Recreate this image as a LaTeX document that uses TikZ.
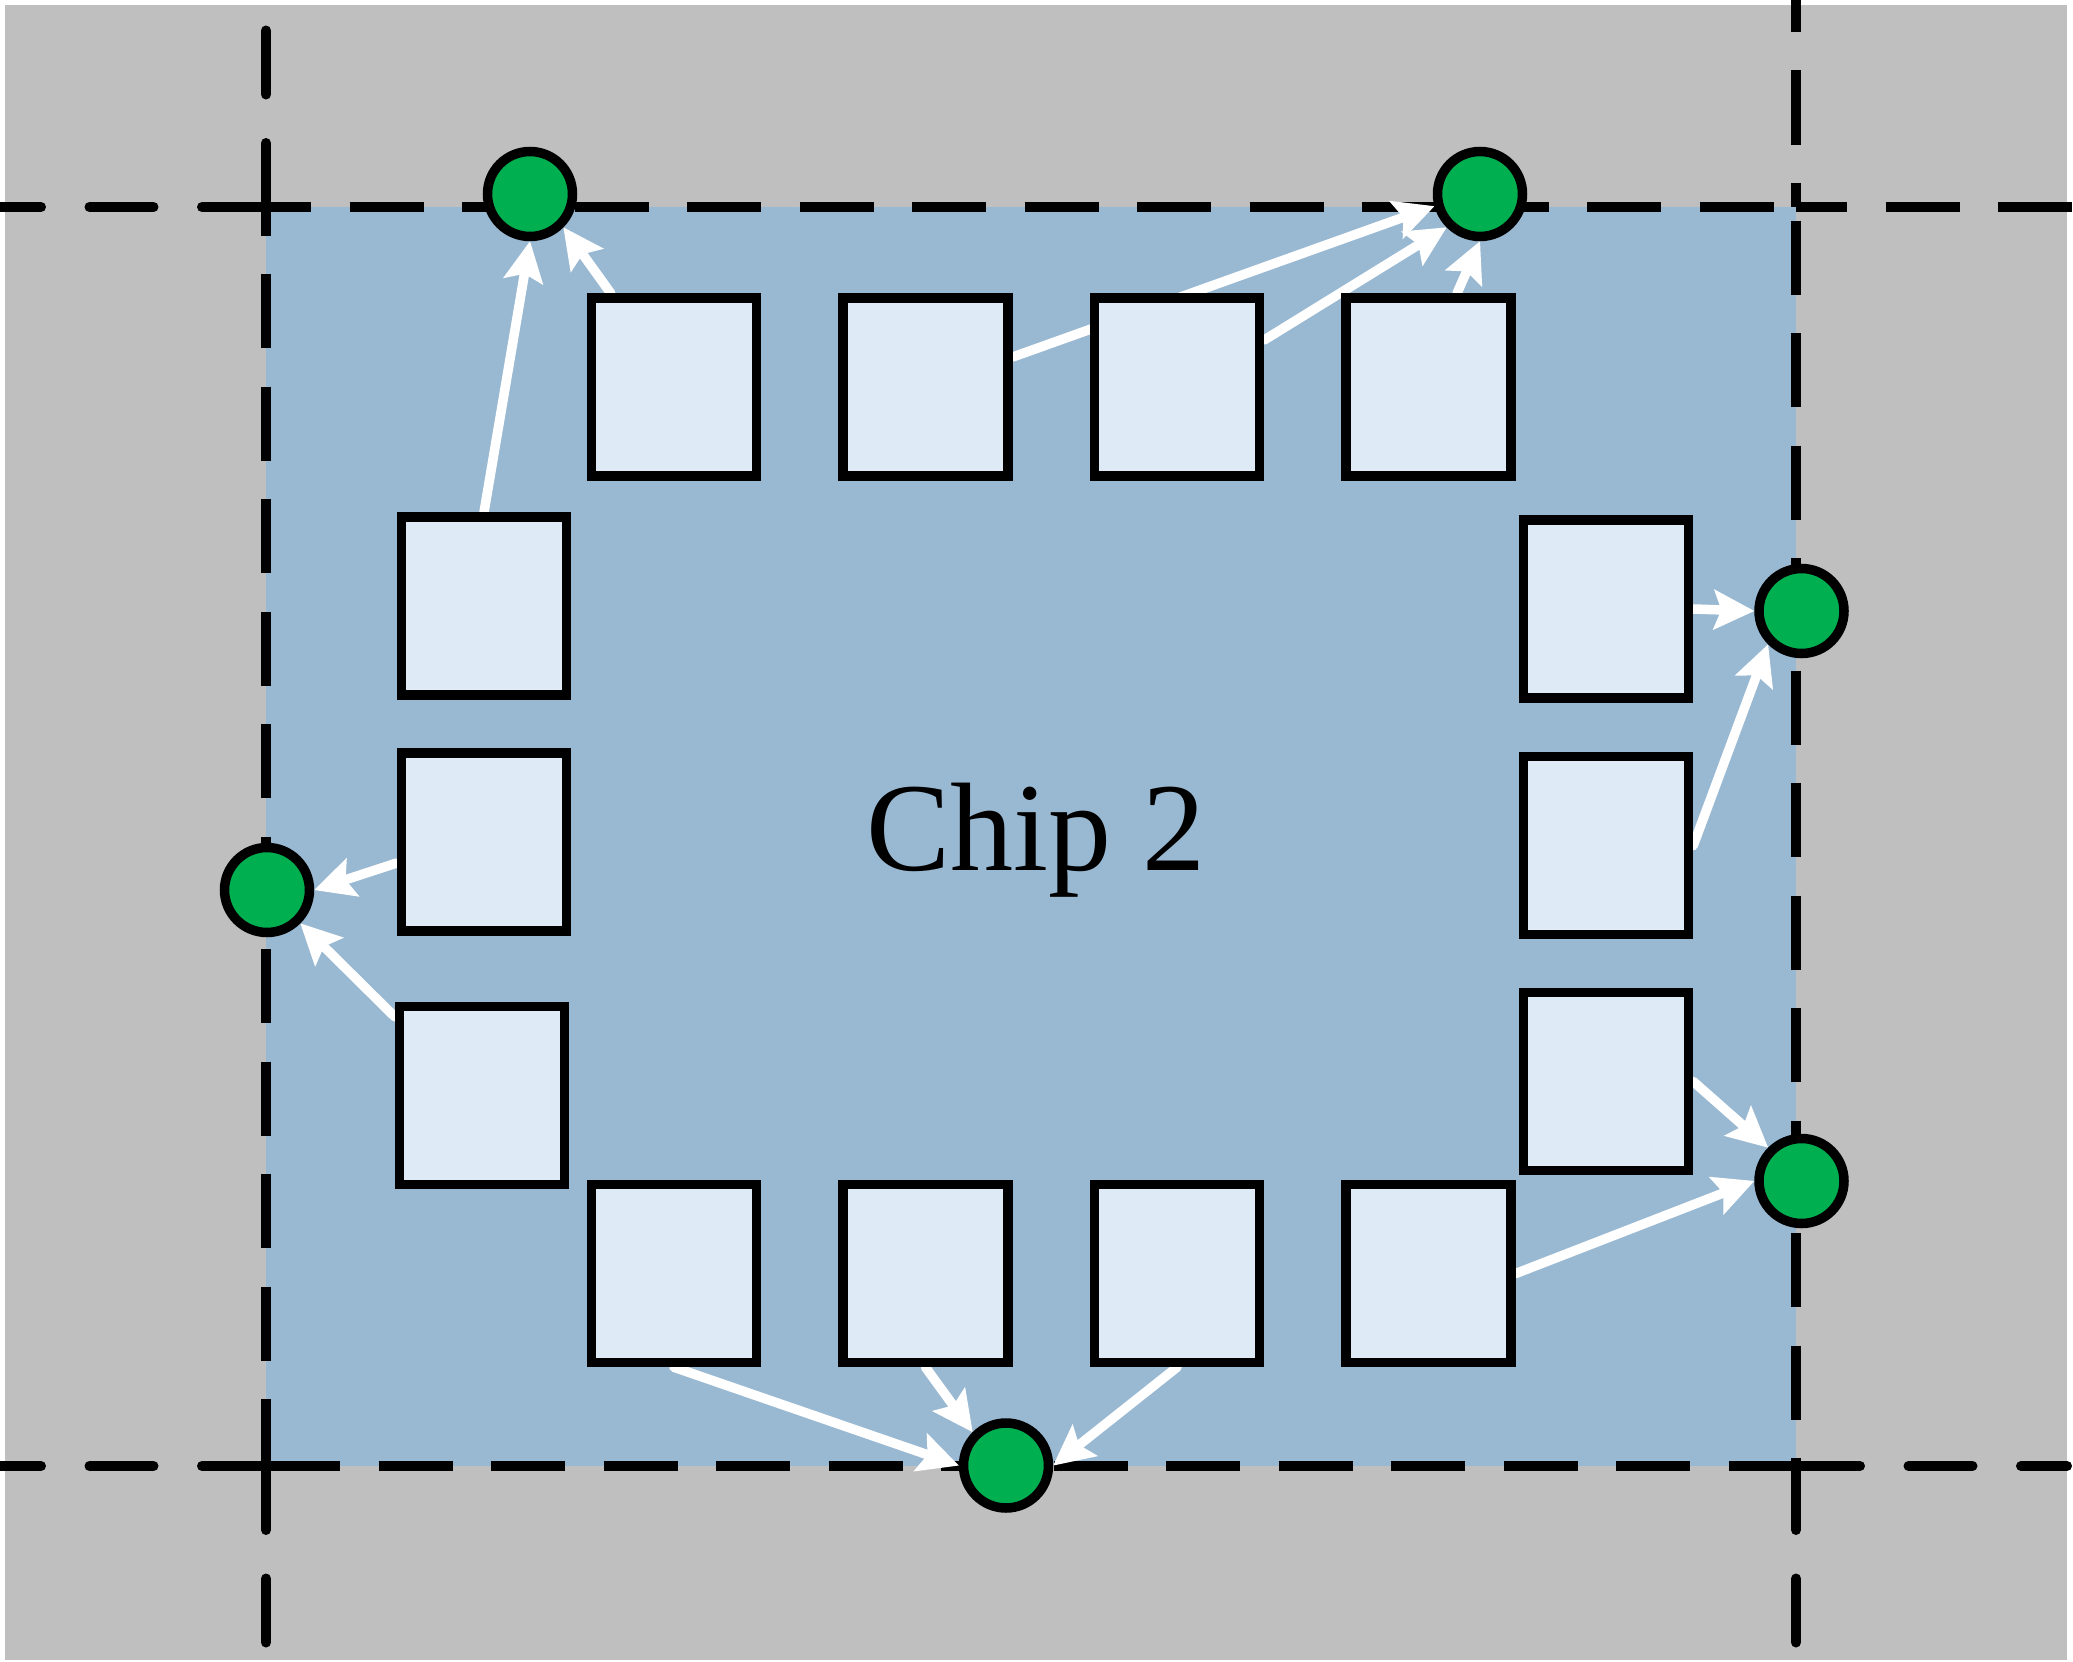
\documentclass[tikz,border=0pt]{standalone}
\usepackage{fontspec}
\setmainfont{Liberation Serif}
\usetikzlibrary{arrows.meta}
\definecolor{chipgray}{HTML}{BFBFBF}
\definecolor{chipblue}{HTML}{99B9D3}
\definecolor{padfill}{HTML}{DEEBF7}
\definecolor{bumpgreen}{HTML}{00B050}
\pgfdeclarelayer{bg}
\pgfdeclarelayer{wires}
\pgfsetlayers{bg,wires,main}
\begin{document}
\begin{tikzpicture}[x=1pt,y=-1pt,
  padbox/.style={draw=black, line width=9.5pt, fill=padfill, minimum width=165pt, minimum height=178pt, inner sep=0pt, outer sep=4.75pt},
  bump/.style={circle, draw=black, line width=9.5pt, fill=bumpgreen, minimum size=85pt, inner sep=0pt, outer sep=4.75pt},
  wire/.style={draw=white, line width=9.5pt, line cap=round, -{Stealth[length=41pt,width=41pt,inset=8pt,line width=0pt]}},
  borderdash/.style={line width=10pt, dash pattern=on 74pt off 38.5pt},
  extdash/.style={line width=10pt, line cap=round, dash pattern=on 64pt off 48.5pt}]
\useasboundingbox (0,0) rectangle (2073,1662);
\begin{pgfonlayer}{bg}
  \fill[chipgray] (5,5) rectangle (2067,1660);
  \fill[chipblue] (266,207) rectangle (1796,1466);
  % chip border
  \draw[borderdash, dash phase=29pt] (266,207) -- (1796,207);
  \draw[borderdash] (266,1466) -- (1802,1466);
  \draw[borderdash, dash phase=45.5pt] (266,207) -- (266,1466);
  \draw[borderdash, dash phase=99pt] (1796,207) -- (1796,1466);
  % extensions
  \draw[extdash] (266,207) -- (0,207);
  \draw[extdash] (266,1466) -- (0,1466);
  \draw[extdash] (266,207) -- (266,20);
  \draw[extdash] (266,1466) -- (266,1650);
  \draw[extdash] (1796,1466) -- (2067,1466);
  \draw[extdash] (1796,1466) -- (1796,1650);
  \draw[borderdash, dash phase=23pt] (1796,207) -- (2073,207);
  \draw[borderdash, dash phase=42pt] (1796,0) -- (1796,207);
\end{pgfonlayer}

\node[padbox] (B1) at (674,387) {};
\node[padbox] (B2) at (925.5,387) {};
\node[padbox] (B3) at (1177,387) {};
\node[padbox] (B4) at (1428.5,387) {};
\node[padbox] (D1) at (674,1273.5) {};
\node[padbox] (D2) at (925.5,1273.5) {};
\node[padbox] (D3) at (1177,1273.5) {};
\node[padbox] (D4) at (1428.5,1273.5) {};
\node[padbox] (L1) at (484,606) {};
\node[padbox] (L2) at (484,842) {};
\node[padbox] (L3) at (482,1095.5) {};
\node[padbox] (R1) at (1606,609) {};
\node[padbox] (R2) at (1606,845.5) {};
\node[padbox] (R3) at (1606,1081.5) {};

\node[bump] (G1) at (530,194) {};
\node[bump] (G2) at (1480,194) {};
\node[bump] (G3) at (1801.5,611) {};
\node[bump] (G4) at (267,890) {};
\node[bump] (G5) at (1801.5,1181) {};
\node[bump] (G6) at (1006,1465.5) {};

\node[anchor=base, inner sep=0pt, font=\fontsize{126}{150}\selectfont] (title) at (1036,870) {Chip 2};

\begin{pgfonlayer}{wires}
  \draw[wire] (L1.north) -- (G1.south);
  \draw[wire] ([xshift=24pt]B1.north west) -- (G1.-45);
  \draw[wire] ([yshift=30pt]B2.east) -- (G2.195);
  \draw[wire] ([yshift=47pt]B3.east) -- (G2.225);
  \draw[wire] ([xshift=28.5pt]B4.north) -- (G2.south);
  \draw[wire] (R1.east) -- (G3.west);
  \draw[wire] (R2.east) -- (G3.225);
  \draw[wire] ([yshift=-21pt]L2.west) -- (G4.east);
  \draw[wire] ([yshift=-15pt]L3.north west) -- (G4.-45);
  \draw[wire] (R3.east) -- (G5.135);
  \draw[wire] (D4.east) -- (G5.west);
  \draw[wire] (D1.south) -- (G6.west);
  \draw[wire] (D2.south) -- (G6.135);
  \draw[wire] (D3.south) -- (G6.east);
\end{pgfonlayer}
\end{tikzpicture}
\end{document}
